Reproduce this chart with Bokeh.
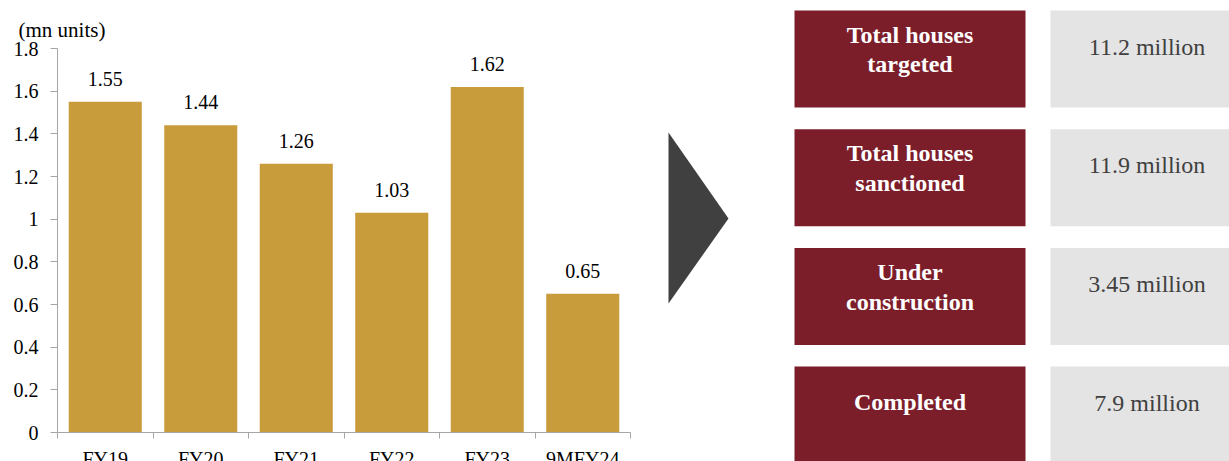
from bokeh.plotting import figure
from bokeh.models import Range1d, FixedTicker, LabelSet, ColumnDataSource
from bokeh.core.properties import value
from bokeh.embed import file_html
from bokeh.resources import INLINE

# ---- data ----
categories = ["FY19", "FY20", "FY21", "FY22", "FY23", "9MFY24"]
units_mn = [1.55, 1.44, 1.26, 1.03, 1.62, 0.65]
y_ticks = [0, 0.2, 0.4, 0.6, 0.8, 1.0, 1.2, 1.4, 1.6, 1.8]
y_tick_labels = ["0", "0.2", "0.4", "0.6", "0.8", "1", "1.2", "1.4", "1.6", "1.8"]
unit_label = "(mn units)"
box_labels = ["Total houses\ntargeted", "Total houses\nsanctioned", "Under\nconstruction", "Completed"]
box_values = ["11.2 million", "11.9 million", "3.45 million", "7.9 million"]

FONT = "Liberation Serif"
BAR = "#C89B3B"
RED = "#7B1E2A"
GREY_BOX = "#E4E4E4"
AXIS = "#A6A6A6"

W, H = 1229, 461
# bar-chart frame in pixels: x 57..630 for the 6 categories, y 432 (0) .. 48 (1.8)
X0, X1, Y0, Y1 = 57, 630, 432, 48
ymax = 1.8
xpx = (X1 - X0) / len(categories)
ypx = (Y0 - Y1) / ymax

p = figure(width=W, height=H, output_backend="svg", toolbar_location=None,
           x_range=Range1d(-X0 / xpx, (W - X0) / xpx),
           y_range=Range1d(-(H - Y0) / ypx, Y0 / ypx),
           min_border=0)
p.outline_line_color = None
p.grid.visible = False
p.background_fill_color = "white"
p.extra_x_ranges = {"px": Range1d(0, W)}
p.extra_y_ranges = {"px": Range1d(H, 0)}

# ---- bars ----
xs = [i + 0.5 for i in range(len(categories))]
src = ColumnDataSource(dict(x=xs, top=units_mn, cat=categories,
                            lab=[f"{v:.2f}" for v in units_mn]))
p.vbar(x="x", top="top", width=0.765, bottom=0, source=src, color=BAR, line_color=None)

xa = p.xaxis[0]
xa.fixed_location = 0
xa.bounds = (0, len(categories))
xa.ticker = FixedTicker(ticks=xs, minor_ticks=list(range(len(categories) + 1)))
xa.major_label_overrides = {x: c for x, c in zip(xs, categories)}
xa.major_label_text_font = FONT
xa.major_label_text_font_size = "20px"
xa.major_label_text_color = "black"
xa.major_label_standoff = 9
xa.major_tick_out = 0
xa.major_tick_in = 0
xa.minor_tick_out = 6
xa.minor_tick_in = 0
xa.axis_line_color = AXIS
xa.minor_tick_line_color = AXIS

ya = p.yaxis[0]
ya.fixed_location = 0
ya.bounds = (0, ymax)
ya.ticker = FixedTicker(ticks=y_ticks)
ya.major_label_overrides = {t: l for t, l in zip(y_ticks, y_tick_labels)}
ya.major_label_text_font = FONT
ya.major_label_text_font_size = "20px"
ya.major_label_text_color = "black"
ya.major_label_standoff = 12
ya.major_tick_out = 7
ya.major_tick_in = 0
ya.minor_tick_out = 0
ya.minor_tick_in = 0
ya.axis_line_color = AXIS
ya.major_tick_line_color = AXIS

p.add_layout(LabelSet(x="x", y="top", text="lab", source=src, y_offset=16,
                      text_align="center", text_baseline="alphabetic",
                      text_font=value(FONT), text_font_size=value("20px"), text_color="black"))

p.text(x=[18], y=[29], text=[unit_label], x_range_name="px", y_range_name="px",
       text_align="left", text_baseline="middle", text_font=value(FONT),
       text_font_size="21px", text_color="black")

# ---- right: arrow and boxes (pixel ranges) ----
p.patch(x=[668, 668, 728], y=[132, 303, 218], color="#404040", line_color=None,
        x_range_name="px", y_range_name="px")

tops = [10 + i * 118.7 for i in range(len(box_labels))]
bottoms = [t + 97 for t in tops]
p.quad(left=794, right=1025, top=tops, bottom=bottoms, color=RED, line_color=None,
       x_range_name="px", y_range_name="px")
p.quad(left=1050, right=1243, top=tops, bottom=bottoms, color=GREY_BOX, line_color=None,
       x_range_name="px", y_range_name="px")

lab_y = [t + (39 if "\n" in l else 35) for t, l in zip(tops, box_labels)]
p.text(x=[909.5] * len(box_labels), y=lab_y, text=box_labels, text_align="center",
       text_baseline="middle", text_font=value(FONT), text_font_style="bold",
       text_font_size="24px", text_color="white", text_line_height=1.15,
       x_range_name="px", y_range_name="px")
p.text(x=[1146.5] * len(box_values), y=[t + 36 for t in tops], text=box_values,
       text_align="center", text_baseline="middle", text_font=value(FONT),
       text_font_size="24px", text_color="#404040",
       x_range_name="px", y_range_name="px")

open("out.html", "w").write(file_html(p, INLINE))
